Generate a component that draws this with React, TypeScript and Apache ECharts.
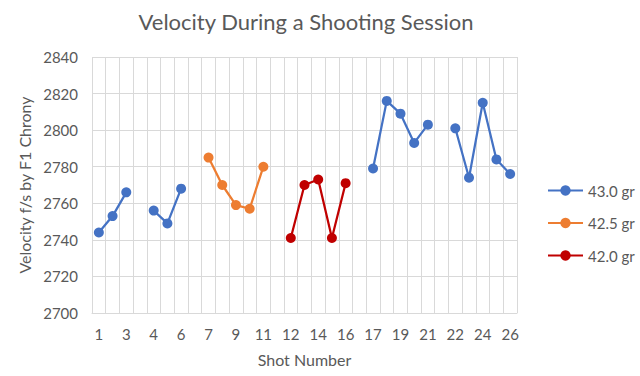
import React, { useEffect, useRef } from "react";
import * as echarts from "echarts";

// Category slots (blank slots separate the groups of shots, as in the source sheet)
const categories: string[] = [
  "1", "2", "3", "",
  "4", "5", "6", "",
  "7", "8", "9", "10", "11", "",
  "12", "13", "14", "15", "16", "",
  "17", "18", "19", "20", "21", "",
  "22", "23", "24", "25", "26",
];

const s430: (number | null)[] = [
  2744, 2753, 2766, null,
  2756, 2749, 2768, null,
  null, null, null, null, null, null,
  null, null, null, null, null, null,
  2779, 2816, 2809, 2793, 2803, null,
  2801, 2774, 2815, 2784, 2776,
];

const s425: (number | null)[] = [
  null, null, null, null,
  null, null, null, null,
  2785, 2770, 2759, 2757, 2780, null,
  null, null, null, null, null, null,
  null, null, null, null, null, null,
  null, null, null, null, null,
];

const s420: (number | null)[] = [
  null, null, null, null,
  null, null, null, null,
  null, null, null, null, null, null,
  2741, 2770, 2773, 2741, 2771, null,
  null, null, null, null, null, null,
  null, null, null, null, null,
];

const seriesNames = ["43.0 gr", "42.5 gr", "42.0 gr"];
const seriesColors = ["#4472C4", "#ED7D31", "#C00000"];

const FONT = "Lato, 'Open Sans', sans-serif";
const TXT = "#595959";

export default function App() {
  const ref = useRef<HTMLDivElement>(null);
  useEffect(() => {
    document.body.style.margin = "0";
    if (!ref.current) return;
    const chart = echarts.init(ref.current, undefined, { renderer: "svg" });
    const datas = [s430, s425, s420];
    chart.setOption({
      animation: false,
      backgroundColor: "#ffffff",
      textStyle: { fontFamily: FONT, color: TXT },
      graphic: [
        {
          type: "text",
          x: 306,
          y: 21,
          style: {
            text: "Velocity During a Shooting Session",
            textAlign: "center",
            textVerticalAlign: "middle",
            fontSize: 22,
            fontFamily: FONT,
            fill: TXT,
          },
        },
      ],
      grid: { left: 92, right: 123, top: 57, bottom: 63, containLabel: false },
      legend: {
        orient: "vertical",
        left: 542,
        top: 178,
        itemWidth: 35,
        itemHeight: 13,
        itemGap: 17.5,
        textStyle: { fontSize: 15, color: TXT, fontFamily: FONT },
        data: seriesNames,
      },
      xAxis: {
        type: "category",
        data: categories,
        boundaryGap: true,
        name: "Shot Number",
        nameLocation: "middle",
        nameGap: 38,
        nameTextStyle: { fontSize: 16, color: TXT, fontFamily: FONT },
        axisLine: { show: true, lineStyle: { color: "#D9D9D9", width: 1 } },
        axisTick: { show: false },
        axisLabel: { interval: 1, fontSize: 15, color: TXT, margin: 13, fontFamily: FONT },
        splitLine: { show: true, interval: 0, lineStyle: { color: "#D9D9D9", width: 1 } },
      },
      yAxis: {
        type: "value",
        min: 2700,
        max: 2840,
        interval: 20,
        name: "Velocity f/s by F1 Chrony",
        nameLocation: "middle",
        nameGap: 52,
        nameTextStyle: { fontSize: 16, color: TXT, fontFamily: FONT },
        axisLine: { show: false },
        axisTick: { show: false },
        axisLabel: {
          fontSize: 15,
          color: TXT,
          margin: 14,
          fontFamily: FONT,
          formatter: (v: number) => String(v),
        },
        splitLine: { show: true, lineStyle: { color: "#D9D9D9", width: 1 } },
      },
      series: seriesNames.map((n, i) => ({
        name: n,
        type: "line",
        data: datas[i],
        connectNulls: false,
        showAllSymbol: true,
        symbol: "circle",
        symbolSize: 10,
        lineStyle: { color: seriesColors[i], width: 2.25 },
        itemStyle: { color: seriesColors[i] },
      })),
    });
    return () => chart.dispose();
  }, []);
  return <div ref={ref} style={{ width: 640, height: 376 }} />;
}
